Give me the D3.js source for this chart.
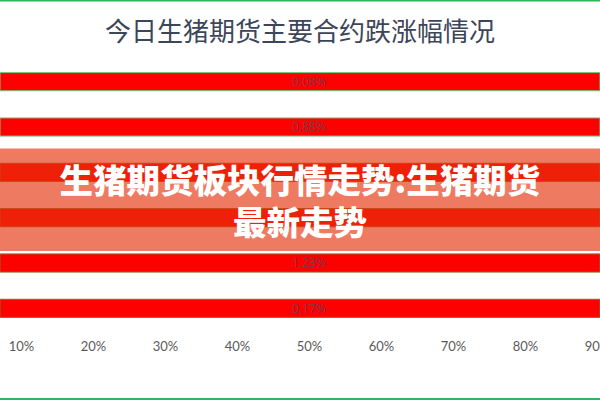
<!DOCTYPE html>
<html>
<head>
<meta charset="utf-8">
<script src="https://cdn.jsdelivr.net/npm/d3@7/dist/d3.min.js"></script>
<style>
  html, body { margin: 0; padding: 0; background: #ffffff; }
  svg { display: block; }
</style>
</head>
<body>
<svg id="chart" width="600" height="400"></svg>
<script>
// ---- data ----
const title = "今日生猪期货主要合约跌涨幅情况";
const bannerLines = ["生猪期货板块行情走势:生猪期货", "最新走势"];
const contracts = ["LH2405", "LH2407", "LH2409", "LH2411", "LH2501", "LH2503"];
const changeLabels = ["0.08%", "0.88%", "0.52%", "0.96%", "1.23%", "0.17%"];
const barShare = [1, 1, 1, 1, 1, 1]; // bars fill the whole row
const tickValues = [0.1, 0.2, 0.3, 0.4, 0.5, 0.6, 0.7, 0.8, 0.9];

// ---- layout ----
const W = 600, H = 400;
const svg = d3.select("#chart");

const x = d3.scaleLinear().domain([0.1, 0.9]).range([21, 597]);
const y = d3.scaleBand().domain(contracts).range([59, 331])
  .paddingInner(0.6).paddingOuter(0.3);
const w = d3.scaleLinear().domain([0, 1]).range([0, W]);

// frame lines
svg.append("rect").attr("x", 0).attr("y", 0).attr("width", W).attr("height", 1.5).attr("fill", "#2fb55a");
svg.append("rect").attr("x", 0).attr("y", 398).attr("width", W).attr("height", 2).attr("fill", "#2fb55a");

// title
svg.append("text")
  .attr("x", W / 2).attr("y", 41)
  .attr("text-anchor", "middle")
  .attr("font-family", "'Noto Sans CJK SC', sans-serif")
  .attr("font-size", 26)
  .attr("fill", "#3c4658")
  .text(title);

// bars
svg.append("g").selectAll("rect")
  .data(contracts)
  .join("rect")
  .attr("x", 0)
  .attr("y", d => y(d))
  .attr("width", (d, i) => w(barShare[i]))
  .attr("height", y.bandwidth())
  .attr("fill", "#ff0000")
  .attr("stroke", (d, i) => i < 2 ? "#6ccb7e" : "#8a6a28")
  .attr("stroke-width", 1);

// value labels
svg.append("g").selectAll("text")
  .data(contracts)
  .join("text")
  .attr("x", x(0.5))
  .attr("y", d => y(d) + y.bandwidth() / 2)
  .attr("dy", "0.35em")
  .attr("text-anchor", "middle")
  .attr("font-family", "'Open Sans', Lato, sans-serif")
  .attr("font-size", 12)
  .attr("fill", "#7a3a4c")
  .text((d, i) => changeLabels[i]);

// axis
const axis = d3.axisBottom(x)
  .tickValues(tickValues)
  .tickFormat(d3.format(".0%"))
  .tickSize(0)
  .tickPadding(0);
const gx = svg.append("g").attr("transform", "translate(0,342)").call(axis);
gx.select(".domain").remove();
gx.selectAll("text")
  .attr("font-family", "Lato, 'Open Sans', sans-serif")
  .attr("font-size", 13)
  .attr("fill", "#5a5a5a");

// banner overlay
svg.append("rect")
  .attr("x", 0).attr("y", 148.5)
  .attr("width", W).attr("height", 102.5)
  .attr("fill", "rgb(229,50,12)")
  .attr("fill-opacity", 0.65);

svg.append("g").selectAll("text")
  .data(bannerLines)
  .join("text")
  .attr("x", W / 2)
  .attr("y", (d, i) => 193 + i * 42)
  .attr("text-anchor", "middle")
  .attr("font-family", "'Noto Sans CJK SC', sans-serif")
  .attr("font-weight", 900)
  .attr("font-size", 33.5)
  .attr("fill", "#ffffff")
  .text(d => d);
</script>
</body>
</html>
